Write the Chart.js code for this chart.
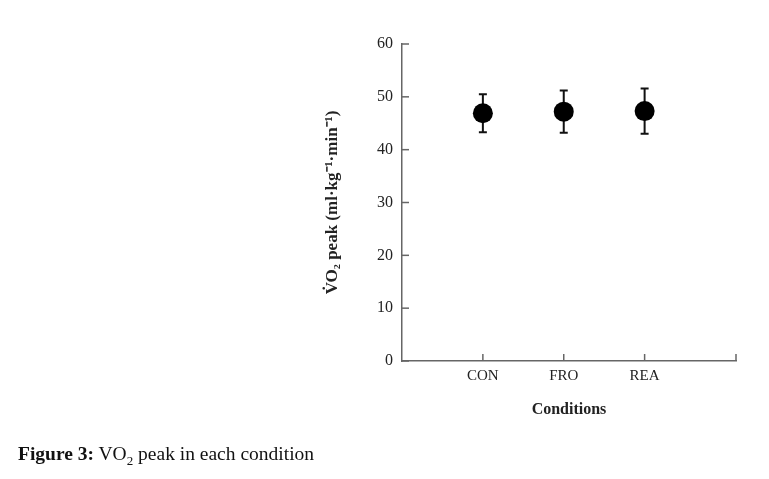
<!DOCTYPE html>
<html>
<head>
<meta charset="utf-8">
<script src="https://cdn.jsdelivr.net/npm/chart.js@4.4.1/dist/chart.umd.min.js"></script>
<style>
  html, body { margin: 0; padding: 0; background: #fff; }
  #wrap { position: relative; width: 769px; height: 479px; }
  #caption {
    position: absolute; left: 18px; top: 443px;
    font-family: "Liberation Serif", serif; font-size: 19.5px; color: #111;
    white-space: nowrap;
  }
  #caption sub { font-size: 13px; }
</style>
</head>
<body>
<div id="wrap">
  <canvas id="chart" width="769" height="479"></canvas>
  <div id="caption"><b>Figure 3:</b> VO<sub>2</sub> peak in each condition</div>
</div>
<script>
// --- DATA ---
const categories = ["CON", "FRO", "REA"];
const means = [46.9, 47.2, 47.3];
const sds = [3.6, 4.0, 4.3];
const yTicks = [0, 10, 20, 30, 40, 50, 60];

const AXIS_COLOR = "#666";
const TEXT_COLOR = "#222";
const SERIF = "'Liberation Serif', 'Times New Roman', serif";

// --- PLUGIN: inward tick marks + error bars ---
const extras = {
    id: "extras",
    beforeDatasetsDraw(chart) {
        const ctx = chart.ctx;
        const x = chart.scales.x, y = chart.scales.y;
        ctx.save();
        ctx.strokeStyle = AXIS_COLOR;
        ctx.lineWidth = 1.5;
        // y ticks pointing right
        yTicks.forEach(v => {
            const py = y.getPixelForValue(v);
            ctx.beginPath();
            ctx.moveTo(x.left, py);
            ctx.lineTo(x.left + 7, py);
            ctx.stroke();
        });
        // x ticks pointing up (categories + end)
        [1, 2, 3, x.max].forEach(v => {
            const px = x.getPixelForValue(v);
            ctx.beginPath();
            ctx.moveTo(px, y.bottom);
            ctx.lineTo(px, y.bottom - 7);
            ctx.stroke();
        });
        // error bars
        ctx.strokeStyle = "#111";
        ctx.lineWidth = 2;
        means.forEach((m, i) => {
            const px = x.getPixelForValue(i + 1);
            const top = y.getPixelForValue(m + sds[i]);
            const bot = y.getPixelForValue(m - sds[i]);
            ctx.beginPath();
            ctx.moveTo(px, top); ctx.lineTo(px, bot);
            ctx.moveTo(px - 4, top); ctx.lineTo(px + 4, top);
            ctx.moveTo(px - 4, bot); ctx.lineTo(px + 4, bot);
            ctx.stroke();
        });
        ctx.restore();
    }
};

// --- CHART ---
try {
    const ctx = document.getElementById("chart").getContext("2d");
    new Chart(ctx, {
        type: "scatter",
        data: {
            datasets: [{
                data: means.map((m, i) => ({ x: i + 1, y: m })),
                pointRadius: 10,
                pointHoverRadius: 10,
                backgroundColor: "#000",
                borderWidth: 0
            }]
        },
        options: {
            responsive: false,
            animation: false,
            events: [],
            layout: { padding: { left: 318, right: 33, top: 44, bottom: 56 } },
            plugins: { legend: { display: false }, tooltip: { enabled: false } },
            scales: {
                x: {
                    type: "linear",
                    min: 0,
                    max: 4.13,
                    afterBuildTicks: s => { s.ticks = [1, 2, 3].map(v => ({ value: v })); },
                    afterFit: s => { s.height = 62; },
                    grid: { display: false, drawTicks: false },
                    border: { display: true, color: AXIS_COLOR, width: 1.5 },
                    ticks: {
                        callback: v => categories[v - 1],
                        font: { family: SERIF, size: 15 },
                        color: TEXT_COLOR,
                        padding: 6,
                        maxRotation: 0
                    },
                    title: {
                        display: true,
                        text: "Conditions",
                        font: { family: SERIF, size: 16, weight: "bold" },
                        color: TEXT_COLOR,
                        padding: { top: 0, bottom: 4 }
                    }
                },
                y: {
                    min: 0,
                    max: 60,
                    afterBuildTicks: s => { s.ticks = yTicks.map(v => ({ value: v })); },
                    afterFit: s => { s.width = 84; },
                    grid: { display: false, drawTicks: false },
                    border: { display: true, color: AXIS_COLOR, width: 1.5 },
                    ticks: {
                        font: { family: SERIF, size: 16 },
                        color: TEXT_COLOR,
                        padding: 9
                    },
                    title: {
                        display: true,
                        text: "V\u0307O\u2082 peak (ml\u00b7kg\u207b\u00b9\u00b7min\u207b\u00b9)",
                        font: { family: SERIF, size: 17, weight: "bold" },
                        color: TEXT_COLOR,
                        padding: { top: 4, bottom: 0 }
                    }
                }
            }
        },
        plugins: [extras]
    });
} catch (e) { console.error("Chart Init Failed", e); }
</script>
</body>
</html>
